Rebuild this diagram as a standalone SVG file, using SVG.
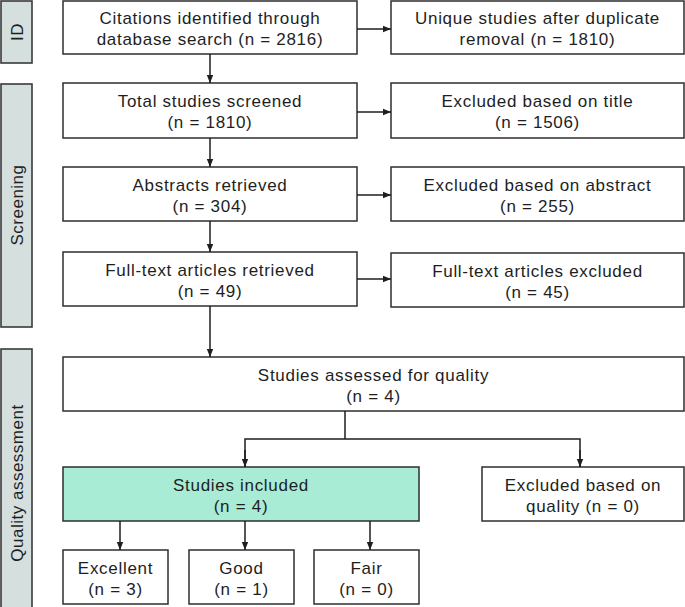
<svg xmlns="http://www.w3.org/2000/svg" width="685" height="607" viewBox="0 0 685 607">
<style>
.bar{fill:#d5e0de;stroke:#3a3a3a;stroke-width:1.6}
.box{fill:#ffffff;stroke:#2e2e2e;stroke-width:1.5}
.green{fill:#a8ecd6}
text{font-family:"Liberation Sans",Arial,sans-serif;font-size:17px;letter-spacing:0.7px;fill:#1e1e1e;text-anchor:middle}
.side{letter-spacing:0.5px}
.conn line,.conn path{stroke:#1e1e1e;stroke-width:1.5;fill:none}
</style>
<defs>
<marker id="ah" markerUnits="userSpaceOnUse" markerWidth="8" markerHeight="8" viewBox="0 0 8 8" refX="8" refY="4" orient="auto">
<path d="M0,0.8 L8,4 L0,7.2 Z" fill="#1e1e1e"/>
</marker>
</defs>
<rect width="685" height="607" fill="#ffffff"/>
<g id="side-id"><rect class="bar" x="1" y="1" width="31" height="62"/><text class="side" transform="translate(23,32) rotate(-90)">ID</text></g>
<g id="side-screening"><rect class="bar" x="1" y="84" width="31" height="243"/><text class="side" transform="translate(23,205) rotate(-90)">Screening</text></g>
<g id="side-quality"><rect class="bar" x="1" y="349" width="31" height="262"/><text class="side" transform="translate(23,483) rotate(-90)">Quality assessment</text></g>

<g id="n-citations"><rect class="box" x="63" y="1" width="294" height="53"/><text x="210" y="24">Citations identified through</text><text x="210" y="45">database search (n = 2816)</text></g>
<g id="n-unique"><rect class="box" x="391" y="1" width="293" height="53"/><text x="537.5" y="24">Unique studies after duplicate</text><text x="537.5" y="45">removal (n = 1810)</text></g>
<g id="n-screened"><rect class="box" x="63" y="83" width="294" height="55"/><text x="210" y="107">Total studies screened</text><text x="210" y="128">(n = 1810)</text></g>
<g id="n-excl-title"><rect class="box" x="391" y="83" width="293" height="55"/><text x="537.5" y="107">Excluded based on title</text><text x="537.5" y="128">(n = 1506)</text></g>
<g id="n-abstracts"><rect class="box" x="63" y="167" width="294" height="54"/><text x="210" y="191">Abstracts retrieved</text><text x="210" y="212">(n = 304)</text></g>
<g id="n-excl-abstract"><rect class="box" x="391" y="167" width="293" height="54"/><text x="537.5" y="191">Excluded based on abstract</text><text x="537.5" y="212">(n = 255)</text></g>
<g id="n-fulltext"><rect class="box" x="63" y="252" width="294" height="54"/><text x="210" y="276">Full-text articles retrieved</text><text x="210" y="297">(n = 49)</text></g>
<g id="n-ft-excluded"><rect class="box" x="391" y="253" width="293" height="54"/><text x="537.5" y="277">Full-text articles excluded</text><text x="537.5" y="298">(n = 45)</text></g>
<g id="n-assessed"><rect class="box" x="63" y="357" width="621" height="54"/><text x="373.5" y="381">Studies assessed for quality</text><text x="373.5" y="402">(n = 4)</text></g>
<g id="n-included"><rect class="box green" x="63" y="467" width="356" height="54"/><text x="241" y="491">Studies included</text><text x="241" y="512">(n = 4)</text></g>
<g id="n-excl-quality"><rect class="box" x="482" y="467" width="202" height="54"/><text x="583" y="491">Excluded based on</text><text x="583" y="512">quality (n = 0)</text></g>
<g id="n-excellent"><rect class="box" x="63" y="550" width="105" height="54"/><text x="115.5" y="574">Excellent</text><text x="115.5" y="595">(n = 3)</text></g>
<g id="n-good"><rect class="box" x="189" y="550" width="105" height="54"/><text x="241.5" y="574">Good</text><text x="241.5" y="595">(n = 1)</text></g>
<g id="n-fair"><rect class="box" x="314" y="550" width="105" height="54"/><text x="366.5" y="574">Fair</text><text x="366.5" y="595">(n = 0)</text></g>

<g id="connectors" class="conn">
<line x1="210" y1="54" x2="210" y2="83" marker-end="url(#ah)"/>
<line x1="210" y1="138" x2="210" y2="167" marker-end="url(#ah)"/>
<line x1="210" y1="221" x2="210" y2="252" marker-end="url(#ah)"/>
<line x1="210" y1="306" x2="210" y2="357" marker-end="url(#ah)"/>
<line x1="357" y1="29" x2="391" y2="29" marker-end="url(#ah)"/>
<line x1="357" y1="112" x2="391" y2="112" marker-end="url(#ah)"/>
<line x1="357" y1="195" x2="391" y2="195" marker-end="url(#ah)"/>
<line x1="357" y1="279" x2="391" y2="279" marker-end="url(#ah)"/>
<path d="M345,411 V439"/>
<path d="M245,467 V439 H580 V467" stroke-linejoin="miter"/>
<line x1="245" y1="450" x2="245" y2="467" marker-end="url(#ah)"/>
<line x1="580" y1="450" x2="580" y2="467" marker-end="url(#ah)"/>
<line x1="120" y1="521" x2="120" y2="550" marker-end="url(#ah)"/>
<line x1="245" y1="521" x2="245" y2="550" marker-end="url(#ah)"/>
<line x1="370" y1="521" x2="370" y2="550" marker-end="url(#ah)"/>
</g>
</svg>
